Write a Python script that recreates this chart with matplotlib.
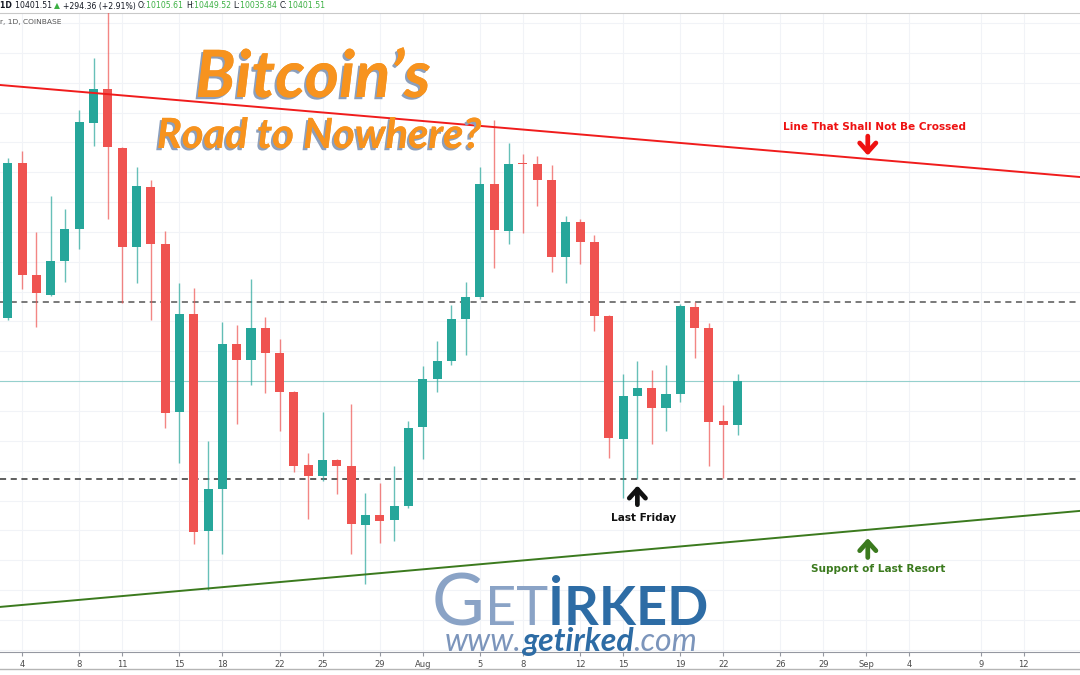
import matplotlib
matplotlib.use('Agg')
import matplotlib.pyplot as plt
import matplotlib.dates as mdates
import matplotlib.patheffects as pe
from matplotlib.lines import Line2D
import pandas as pd
import numpy as np

# ---------------- data ----------------
dates = pd.date_range('2019-07-03', '2019-08-23', freq='D')
opens = [10823, 11862, 11112, 10978, 11205, 11420, 12130, 12358, 11962, 11299,
         11701, 11319, 10194, 10850, 9396, 9678, 10649, 10542, 10756, 10589,
         10328, 9839, 9765, 9872, 9832, 9437, 9504, 9470, 9564,
         10093, 10415, 10535, 10817, 10964, 11721, 11406, 11862, 11855, 11748,
         11232, 11467, 11333, 10837, 10013, 10301, 10354, 10220, 10314, 10897,
         10756, 10134, 10105.61]
highs = [11895, 11942, 11400, 11641, 11554, 12217, 12565, 13180, 11969, 11835,
         11748, 11406, 11058, 11024, 9999, 10797, 10777, 11085, 10830, 10683,
         10335, 9919, 10194, 9879, 10247, 9651, 9718, 9832, 10133,
         10502, 10669, 10911, 11065, 11835, 12150, 11996, 11922, 11909, 11849,
         11507, 11487, 11380, 10845, 10448, 10535, 10475, 10509, 10917, 10931,
         10790, 10241, 10449.52]
lows = [10810, 11018, 10763, 10971, 11065, 11286, 11976, 11487, 10924, 11058,
        10810, 10086, 9852, 9309, 9001, 9242, 10113, 10375, 10321, 10066,
        9792, 9477, 9731, 9644, 9242, 9041, 9316, 9329, 9550,
        9879, 10328, 10509, 10576, 10950, 11158, 11319, 11393, 11574, 11132,
        11058, 11185, 10736, 9885, 9617, 9745, 9979, 10066, 10261, 10556,
        9832, 9751, 10035.84]
closes = [11862, 11112, 10991, 11205, 11420, 12137, 12358, 11969, 11299, 11708,
          11319, 10187, 10850, 9390, 9678, 10649, 10542, 10756, 10589, 10328,
          9832, 9765, 9872, 9832, 9443, 9504, 9463, 9564, 10086,
          10415, 10535, 10817, 10964, 11721, 11413, 11855, 11855, 11748, 11232,
          11467, 11333, 10837, 10019, 10301, 10354, 10220, 10314, 10904, 10756,
          10127, 10107, 10401.51]

tick_dates = ['2019-07-04', '2019-07-08', '2019-07-11', '2019-07-15', '2019-07-18',
              '2019-07-22', '2019-07-25', '2019-07-29', '2019-08-01', '2019-08-05',
              '2019-08-08', '2019-08-12', '2019-08-15', '2019-08-19', '2019-08-22',
              '2019-08-26', '2019-08-29', '2019-09-01', '2019-09-04', '2019-09-09',
              '2019-09-12']
tick_labels = ['4', '8', '11', '15', '18', '22', '25', '29', 'Aug', '5', '8', '12',
               '15', '19', '22', '26', '29', 'Sep', '4', '9', '12']

resistance_level = 10931      # upper dashed line
support_level = 9745          # lower dashed line ("Last Friday" low)
last_close = 10401.51
red_line_pts = [('2019-07-10', 12323), ('2019-09-12', 11800)]
green_line_pts = [('2019-07-17', 9011), ('2019-09-12', 9497)]

header = {'O': '10105.61', 'H': '10449.52', 'L': '10035.84', 'C': '10401.51'}

# ---------------- figure ----------------
W, H = 1080, 675
fig = plt.figure(figsize=(W / 100, H / 100), dpi=100)
fig.patch.set_facecolor('white')
ax = fig.add_axes([0, (H - 652) / H, 1, (652 - 13) / H])

x = mdates.date2num(dates)
o = np.array(opens); h = np.array(highs); l = np.array(lows); c = np.array(closes)
up = c >= o
GREEN, RED = '#26a69a', '#ef5350'
cols = np.where(up, GREEN, RED)
body_lo = np.minimum(o, c)
body_h = np.maximum(np.abs(c - o), 8)

ax.vlines(x, l, h, colors=cols, linewidth=1.0, alpha=0.7, zorder=3)
ax.bar(x, body_h, bottom=body_lo, width=0.63, color=cols, linewidth=0, zorder=4)

d0 = mdates.date2num(pd.Timestamp('2019-07-01'))
ax.set_xlim(d0 + 1.46, d0 + 76.93)
ax.set_ylim(8585, 12867)

# grid
ax.set_yticks(np.arange(8600, 12900, 200))
ax.grid(True, color='#f1f3f7', linewidth=0.8, zorder=0)
ax.tick_params(axis='y', left=False, labelleft=False)

ax.set_xticks(mdates.date2num(pd.to_datetime(tick_dates)))
ax.set_xticklabels(tick_labels)
ax.tick_params(axis='x', length=3, color='#9598a1', labelsize=6, labelcolor='#4a4a4a', pad=3)

for s in ['left', 'right']:
    ax.spines[s].set_visible(False)
ax.spines['top'].set_color('#c9c9c9')
ax.spines['bottom'].set_color('#9598a1')

# horizontal levels
ax.axhline(resistance_level, color='#555555', linestyle=(0, (4, 3)), linewidth=1.1, zorder=2)
ax.axhline(support_level, color='#333333', linestyle=(0, (4, 3)), linewidth=1.1, zorder=2)
ax.axhline(last_close, color=GREEN, linewidth=0.8, alpha=0.45, zorder=2)

# trendlines
def pts(p):
    return [(mdates.date2num(pd.Timestamp(d)), v) for d, v in p]
(rx1, ry1), (rx2, ry2) = pts(red_line_pts)
ax.axline((rx1, ry1), (rx2, ry2), color='#f01c1c', linewidth=1.4, zorder=5)
(gx1, gy1), (gx2, gy2) = pts(green_line_pts)
ax.axline((gx1, gy1), (gx2, gy2), color='#3b7a1e', linewidth=1.4, zorder=5)

# annotations
def dn(s):
    return mdates.date2num(pd.Timestamp(s))

arrow_style = '->, head_length=0.5, head_width=0.45'
def arrow(xd, y_tip, y_tail, color):
    ax.annotate('', xy=(xd, y_tip), xytext=(xd, y_tail),
                arrowprops=dict(arrowstyle=arrow_style, color=color, lw=3.4,
                                mutation_scale=13, shrinkA=0, shrinkB=0), zorder=6)

ax.text(dn('2019-09-01') + 0.6, 12103, 'Line That Shall Not Be Crossed', color='#ee1111',
        fontsize=7.6, fontweight='bold', ha='center', va='center', family='DejaVu Sans', zorder=6)
arrow(dn('2019-09-01') + 0.1, 11912, 12042, '#ee1111')

ax.text(dn('2019-08-16') + 0.45, 9483, 'Last Friday', color='#111111',
        fontsize=7.6, fontweight='bold', ha='center', va='center', family='DejaVu Sans', zorder=6)
arrow(dn('2019-08-16'), 9700, 9572, '#111111')

ax.text(dn('2019-09-01') + 0.82, 9142, 'Support of Last Resort', color='#3b7a1e',
        fontsize=7.6, fontweight='bold', ha='center', va='center', family='DejaVu Sans', zorder=6)
arrow(dn('2019-09-01') + 0.1, 9348, 9218, '#3b7a1e')

# bottom border line of the time axis
fig.add_artist(Line2D([0, 1], [1 - 669 / H, 1 - 669 / H], color='#b5b5b5', linewidth=1))

renderer = fig.canvas.get_renderer()

def runs(x_px, y_px, items, **common):
    xx = x_px
    out = []
    for s, kw in items:
        kk = dict(common); kk.update(kw)
        t = fig.text(xx / W, 1 - y_px / H, s, ha='left', va='baseline', **kk)
        bb = t.get_window_extent(renderer)
        xx += bb.width
        out.append(t)
    return out

# header
hdr_green = '#3cb043'
items = [('1D ', dict(fontweight='bold', color='#131722')),
         ('10401.51 ', dict(color='#131722')),
         ('\u25b2 ', dict(color=hdr_green)),
         ('+294.36 (+2.91%) ', dict(color='#131722'))]
for k in ['O', 'H', 'L', 'C']:
    items.append((k + ':', dict(color='#131722')))
    items.append((header[k] + ' ', dict(color=hdr_green)))
runs(0, 8.5, items, fontsize=5.6, family='DejaVu Sans')
fig.text(0, 1 - 24 / H, 'r, 1D, COINBASE', fontsize=5.4, color='#555555', ha='left', va='baseline')

# title
shadow = [pe.withSimplePatchShadow(offset=(-1.6, -1.6), shadow_rgbFace='#8c9fbc', alpha=1.0), pe.Normal()]
fig.text(313 / W, 1 - 97 / H, 'Bitcoin\u2019s', fontsize=47, color='#f7931e', fontweight='bold',
         style='italic', family='Lato', ha='center', va='baseline', path_effects=shadow)
fig.text(319 / W, 1 - 148 / H, 'Road to Nowhere?', fontsize=30, color='#f7931e', fontweight='bold',
         style='italic', family='Lato', ha='center', va='baseline', path_effects=shadow)

# logo
logo_light = '#8aa3c6'
logo_dark = '#2d6ca5'
runs(432, 625, [('G', dict(fontsize=52, color=logo_light)),
                ('ET', dict(fontsize=39, color=logo_light)),
                ('\u0130RKED', dict(fontsize=39, color=logo_dark, fontweight='bold'))],
     family='Lato', zorder=10)
runs(445, 651, [('www.', dict(color='#7c95bb')),
                ('getirked', dict(color=logo_dark, fontweight='bold')),
                ('.com', dict(color='#7c95bb'))],
     family='Lato', fontsize=23, style='italic', zorder=10)

fig.savefig('out.png', dpi=100, facecolor='white')
